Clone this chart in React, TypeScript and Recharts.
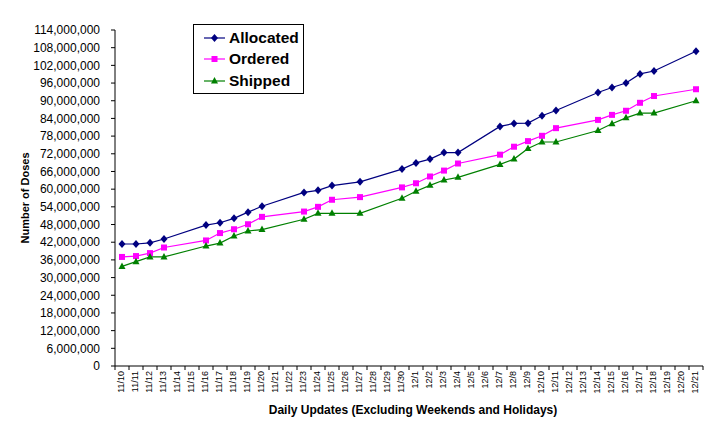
import React from "react";
import { LineChart, Line, XAxis, YAxis } from "recharts";

// ─── Data ─────────────────────────────────────────────────────────────────────

const dates = [
  "11/10", "11/11", "11/12", "11/13", "11/14", "11/15", "11/16", "11/17", "11/18", "11/19", "11/20",
  "11/21", "11/22", "11/23", "11/24", "11/25", "11/26", "11/27", "11/28", "11/29", "11/30",
  "12/1", "12/2", "12/3", "12/4", "12/5", "12/6", "12/7", "12/8", "12/9", "12/10",
  "12/11", "12/12", "12/13", "12/14", "12/15", "12/16", "12/17", "12/18", "12/19", "12/20", "12/21",
];

// values in millions of doses, null = no update (weekend / holiday)
const allocated = [
  41.4, 41.4, 41.8, 43.1, null, null, 47.8, 48.6, 50.1, 52.2, 54.2,
  null, null, 58.9, 59.6, 61.2, null, 62.5, null, null, 66.8,
  68.9, 70.2, 72.4, 72.4, null, null, 81.3, 82.3, 82.4, 84.9,
  86.7, null, null, 92.8, 94.5, 96.0, 99.1, 100.1, null, null, 106.8,
];

const ordered = [
  37.0, 37.3, 38.3, 40.2, null, null, 42.6, 45.1, 46.4, 48.1, 50.6,
  null, null, 52.4, 54.0, 56.4, null, 57.3, null, null, 60.6,
  62.0, 64.3, 66.3, 68.7, null, null, 71.7, 74.4, 76.3, 78.1,
  80.7, null, null, 83.5, 85.2, 86.6, 89.3, 91.6, null, null, 93.9,
];

const shipped = [
  33.8, 35.4, 37.0, 37.0, null, null, 40.7, 41.7, 44.1, 45.8, 46.3,
  null, null, 49.8, 51.8, 51.8, null, 51.8, null, null, 56.9,
  59.3, 61.3, 63.1, 64.0, null, null, 68.4, 70.2, 73.8, 76.0,
  76.0, null, null, 79.9, 82.2, 84.2, 85.8, 85.8, null, null, 90.0,
];

const yTicks = [
  0, 6000000, 12000000, 18000000, 24000000, 30000000, 36000000, 42000000, 48000000, 54000000,
  60000000, 66000000, 72000000, 78000000, 84000000, 90000000, 96000000, 102000000, 108000000, 114000000,
];

const toDoses = (v: number | null) => (v == null ? null : Math.round(v * 1000000));

const data = dates.map((date, i) => ({
  date,
  Allocated: toDoses(allocated[i]),
  Ordered: toDoses(ordered[i]),
  Shipped: toDoses(shipped[i]),
}));

const NAVY = "#000080";
const MAGENTA = "#FF00FF";
const GREEN = "#008000";
const FONT = "'Liberation Sans', Arial, sans-serif";

// ─── Markers ──────────────────────────────────────────────────────────────────

function Diamond({ cx, cy, color }: any) {
  if (cx == null || cy == null) return null;
  return <path d={`M${cx},${cy - 4}L${cx + 3.5},${cy}L${cx},${cy + 4}L${cx - 3.5},${cy}Z`} fill={color} />;
}

function Square({ cx, cy, color }: any) {
  if (cx == null || cy == null) return null;
  return <rect x={cx - 3} y={cy - 3} width={6} height={6} fill={color} />;
}

function Triangle({ cx, cy, color }: any) {
  if (cx == null || cy == null) return null;
  return <path d={`M${cx},${cy - 4}L${cx + 3.5},${cy + 2.5}L${cx - 3.5},${cy + 2.5}Z`} fill={color} />;
}

const markerDot = (Shape: any, color: string) => (props: any) => {
  const { cx, cy, index } = props;
  return (
    <g key={`m-${index}`}>
      <Shape cx={cx} cy={cy} color={color} />
    </g>
  );
};

// ─── Axis ticks ───────────────────────────────────────────────────────────────

const BAND = 14;

function DateTick({ x, y, payload, index }: any) {
  return (
    <g>
      <line x1={x + BAND / 2} y1={y - 5} x2={x + BAND / 2} y2={y - 1} stroke="#000" />
      {index === 0 && <line x1={x - BAND / 2} y1={y - 5} x2={x - BAND / 2} y2={y - 1} stroke="#000" />}
      <text
        transform={`translate(${x - 1},${y}) rotate(-90)`}
        textAnchor="end"
        dominantBaseline="central"
        fontSize={9}
        fontFamily={FONT}
        fill="#000"
      >
        {payload.value}
      </text>
    </g>
  );
}

// ─── Legend ───────────────────────────────────────────────────────────────────

const legendItems = [
  { name: "Allocated", color: NAVY, Shape: Diamond },
  { name: "Ordered", color: MAGENTA, Shape: Square },
  { name: "Shipped", color: GREEN, Shape: Triangle },
];

function BoxLegend() {
  return (
    <div
      style={{
        position: "absolute",
        left: 193,
        top: 24,
        border: "1px solid #000",
        background: "#fff",
        width: 111,
        height: 70,
        boxSizing: "border-box",
        padding: "2px 0 0 9px",
        fontFamily: FONT,
      }}
    >
      {legendItems.map((it) => (
        <div key={it.name} style={{ display: "flex", alignItems: "center", height: 21.5 }}>
          <svg width={24} height={12} style={{ marginRight: 2 }}>
            <line x1={1} y1={6} x2={22} y2={6} stroke={it.color} strokeWidth={1.2} />
            <it.Shape cx={11.5} cy={6} color={it.color} />
          </svg>
          <span style={{ fontSize: 15.5, fontWeight: "bold", color: "#000" }}>{it.name}</span>
        </div>
      ))}
    </div>
  );
}

// ─── Chart ────────────────────────────────────────────────────────────────────

export default function App() {
  return (
    <div style={{ position: "absolute", left: 0, top: 0, width: 713, height: 424, background: "#fff" }}>
      <LineChart width={713} height={424} data={data} margin={{ top: 30, right: 10, left: 0, bottom: 0 }}>
        <XAxis
          dataKey="date"
          scale="band"
          interval={0}
          height={58}
          tickLine={false}
          tickSize={4}
          tickMargin={1}
          stroke="#000"
          tick={<DateTick />}
          label={{
            value: "Daily Updates (Excluding Weekends and Holidays)",
            position: "insideBottom",
            offset: 10,
            dx: 4,
            fontSize: 12,
            fontWeight: "bold",
            fontFamily: FONT,
            fill: "#000",
          }}
        />
        <YAxis
          width={115}
          domain={[0, 114000000]}
          ticks={yTicks}
          interval={0}
          tickSize={4}
          tickMargin={11}
          stroke="#000"
          tick={{ fontSize: 12, fontFamily: FONT, fill: "#000" }}
          tickFormatter={(v) => Number(v).toLocaleString("en-US")}
          label={{
            value: "Number of Doses",
            angle: -90,
            position: "center",
            dx: -32,
            fontSize: 11,
            fontWeight: "bold",
            fontFamily: FONT,
            fill: "#000",
          }}
        />
        <Line
          type="linear"
          dataKey="Allocated"
          stroke={NAVY}
          strokeWidth={1.2}
          connectNulls
          dot={markerDot(Diamond, NAVY)}
          activeDot={false}
          isAnimationActive={false}
        />
        <Line
          type="linear"
          dataKey="Ordered"
          stroke={MAGENTA}
          strokeWidth={1.2}
          connectNulls
          dot={markerDot(Square, MAGENTA)}
          activeDot={false}
          isAnimationActive={false}
        />
        <Line
          type="linear"
          dataKey="Shipped"
          stroke={GREEN}
          strokeWidth={1.2}
          connectNulls
          dot={markerDot(Triangle, GREEN)}
          activeDot={false}
          isAnimationActive={false}
        />
      </LineChart>
      <BoxLegend />
    </div>
  );
}
